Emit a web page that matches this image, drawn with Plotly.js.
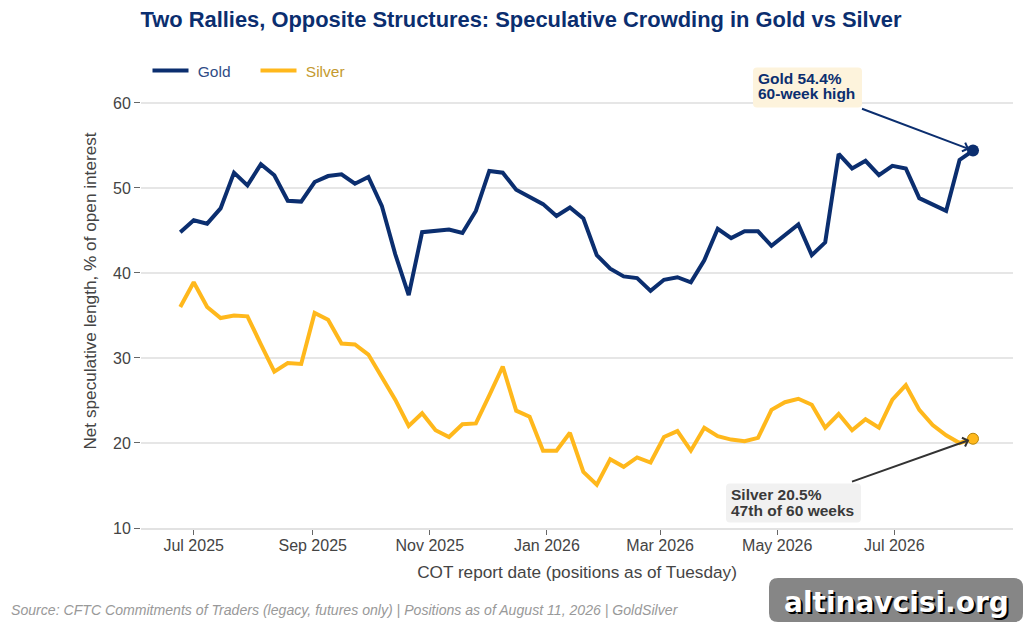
<!DOCTYPE html>
<html><head><meta charset="utf-8">
<script src="https://cdn.plot.ly/plotly-3.0.1.min.js"></script>
<style>html,body{margin:0;padding:0;background:#fff}</style>
</head><body><div id="chart" style="width:1024px;height:629px"></div>
<script>
const dates = ["2025-06-24","2025-07-01","2025-07-08","2025-07-15","2025-07-22","2025-07-29","2025-08-05","2025-08-12","2025-08-19","2025-08-26","2025-09-02","2025-09-09","2025-09-16","2025-09-23","2025-09-30","2025-10-07","2025-10-14","2025-10-21","2025-10-28","2025-11-04","2025-11-11","2025-11-18","2025-11-25","2025-12-02","2025-12-09","2025-12-16","2025-12-23","2025-12-30","2026-01-06","2026-01-13","2026-01-20","2026-01-27","2026-02-03","2026-02-10","2026-02-17","2026-02-24","2026-03-03","2026-03-10","2026-03-17","2026-03-24","2026-03-31","2026-04-07","2026-04-14","2026-04-21","2026-04-28","2026-05-05","2026-05-12","2026-05-19","2026-05-26","2026-06-02","2026-06-09","2026-06-16","2026-06-23","2026-06-30","2026-07-07","2026-07-14","2026-07-21","2026-07-28","2026-08-04","2026-08-11"];
const gold = [44.8,46.2,45.8,47.6,51.8,50.3,52.8,51.5,48.5,48.4,50.7,51.4,51.6,50.5,51.3,47.9,42.2,37.4,44.8,44.95,45.1,44.7,47.3,52.0,51.8,49.8,49.0,48.1,46.7,47.7,46.4,42.1,40.5,39.6,39.4,37.9,39.2,39.5,38.9,41.5,45.2,44.1,44.9,44.9,43.2,44.4,45.7,42.1,43.6,54.0,52.3,53.2,51.5,52.6,52.3,48.8,48.1,47.3,53.3,54.4];
const silver = [36.0,38.9,36.0,34.7,35.0,34.9,31.6,28.4,29.4,29.3,35.3,34.5,31.7,31.6,30.4,27.8,25.1,22.0,23.5,21.5,20.7,22.2,22.3,25.6,29.0,23.8,23.1,19.1,19.1,21.2,16.6,15.1,18.1,17.2,18.3,17.7,20.7,21.4,19.1,21.8,20.8,20.4,20.2,20.6,23.9,24.8,25.2,24.5,21.8,23.4,21.5,22.8,21.8,25.1,26.8,23.9,22.1,20.9,20.0,20.5];
const titleText = "Two Rallies, Opposite Structures: Speculative Crowding in Gold vs Silver";
const xTitle = "COT report date (positions as of Tuesday)";
const yTitle = "Net speculative length, % of open interest";
const sourceText = "Source: CFTC Commitments of Traders (legacy, futures only) | Positions as of August 11, 2026 | GoldSilver";
const watermark = "altinavcisi.org";
const goldNote = ["Gold 54.4%","60-week high"];
const silverNote = ["Silver 20.5%","47th of 60 weeks"];

const W=1024,H=629,L=141,R=1013,T=54,B=528;
const NAVY="#0B2E6F",AMBER="#FFB81C",SANS="Liberation Sans, Arial, sans-serif";
const px=x=>(x-L)/(R-L), py=y=>(B-y)/(B-T);
function rr(x0,y0,x1,y1,r){
  const p=(x,y)=>px(x)+","+py(y);
  return "M"+p(x0+r,y0)+" L"+p(x1-r,y0)+" Q"+p(x1,y0)+" "+p(x1,y0+r)+" L"+p(x1,y1-r)+" Q"+p(x1,y1)+" "+p(x1-r,y1)+" L"+p(x0+r,y1)+" Q"+p(x0,y1)+" "+p(x0,y1-r)+" L"+p(x0,y0+r)+" Q"+p(x0,y0)+" "+p(x0+r,y0)+" Z";
}
const n=dates.length-1;
const traces=[
 {x:dates,y:gold,name:'<span style="color:#2F4C85">\u00A0Gold</span>',mode:"lines",line:{color:NAVY,width:4,shape:"linear"},hoverinfo:"x+y"},
 {x:dates,y:silver,name:'<span style="color:#C49A2E">\u00A0Silver</span>',mode:"lines",line:{color:AMBER,width:4,shape:"linear"},hoverinfo:"x+y"},
 {x:[dates[n]],y:[gold[n]],mode:"markers",showlegend:false,marker:{color:NAVY,size:12,line:{color:NAVY,width:0}},hoverinfo:"x+y"},
 {x:[dates[n]],y:[silver[n]],mode:"markers",showlegend:false,marker:{color:AMBER,size:11,line:{color:"#B8860B",width:1}},hoverinfo:"x+y"}
];
const noteFont=c=>({size:15.5,weight:700,color:c,family:SANS});
const layout={
 width:W,height:H,paper_bgcolor:"#fff",plot_bgcolor:"#fff",
 margin:{l:L,r:W-R,t:T,b:H-B,pad:0},
 font:{family:SANS,color:"#444"},
 title:{text:titleText,x:521/W,xref:"container",xanchor:"center",y:1-19.5/H,yref:"container",yanchor:"middle",font:{size:21.9,weight:700,color:NAVY,family:SANS}},
 xaxis:{type:"date",range:["2025-06-03 13:00","2026-08-31 20:00"],tick0:"2025-07-01",dtick:"M2",tickformat:"%b %Y",ticks:"outside",ticklen:5,tickwidth:1,tickcolor:"#666",ticklabelstandoff:-3,showgrid:false,showline:true,linecolor:"#e2e2e2",linewidth:1.5,zeroline:false,tickfont:{size:16,color:"#444"},title:{text:xTitle,font:{size:17.2,color:"#444"},standoff:13}},
 yaxis:{range:[10,65.76],tickvals:[10,20,30,40,50,60],ticks:"outside",ticklen:6,tickwidth:1,tickcolor:"#666",showgrid:true,gridcolor:"#e6e6e6",gridwidth:1.5,showline:false,zeroline:false,tickfont:{size:16,color:"#444"},title:{text:yTitle,font:{size:17.2,color:"#444"},standoff:11}},
 legend:{orientation:"h",x:px(147.5),y:py(71),xanchor:"left",yanchor:"middle",bgcolor:"rgba(0,0,0,0)",font:{size:15.5},itemwidth:36,entrywidth:57,entrywidthmode:"pixels",traceorder:"normal"},
 shapes:[
  {type:"path",xref:"paper",yref:"paper",path:rr(753,67.5,862,107.5,4),fillcolor:"#FDF3DC",line:{width:0},layer:"above"},
  {type:"path",xref:"paper",yref:"paper",path:rr(726,483.5,861,522.5,4),fillcolor:"#F1F1F1",line:{width:0},layer:"above"},
  {type:"path",xref:"paper",yref:"paper",path:rr(769,578,1023,622,9),fillcolor:"#868686",line:{width:0},layer:"above"}
 ],
 annotations:[
  {xref:"paper",yref:"paper",x:px(756),y:py(78),xanchor:"left",yanchor:"middle",showarrow:false,text:goldNote[0],font:noteFont(NAVY)},
  {xref:"paper",yref:"paper",x:px(756),y:py(94),xanchor:"left",yanchor:"middle",showarrow:false,text:goldNote[1],font:noteFont(NAVY)},
  {xref:"paper",yref:"paper",x:px(729),y:py(494),xanchor:"left",yanchor:"middle",showarrow:false,text:silverNote[0],font:noteFont("#3A3A3A")},
  {xref:"paper",yref:"paper",x:px(729),y:py(510),xanchor:"left",yanchor:"middle",showarrow:false,text:silverNote[1],font:noteFont("#3A3A3A")},
  {x:dates[n],y:gold[n],text:" ",showarrow:true,arrowhead:4,arrowsize:0.9,arrowwidth:2,arrowcolor:NAVY,standoff:4,ax:-114,ay:-43},
  {x:dates[n],y:silver[n],text:" ",showarrow:true,arrowhead:4,arrowsize:0.9,arrowwidth:2,arrowcolor:"#333",standoff:4,ax:-124,ay:44},
  {xref:"paper",yref:"paper",x:px(9),y:py(610),xanchor:"left",yanchor:"middle",showarrow:false,text:sourceText,font:{size:14.1,style:"italic",color:"#999999",family:SANS}},
  {xref:"paper",yref:"paper",x:px(896),y:py(602),xanchor:"center",yanchor:"middle",showarrow:false,text:watermark,font:{size:28,weight:700,color:"#fff",family:"DejaVu Sans",shadow:"2px 2px 0 #000"}}
 ]
};
Plotly.newPlot("chart",traces,layout,{displayModeBar:false,responsive:false});
</script></body></html>
